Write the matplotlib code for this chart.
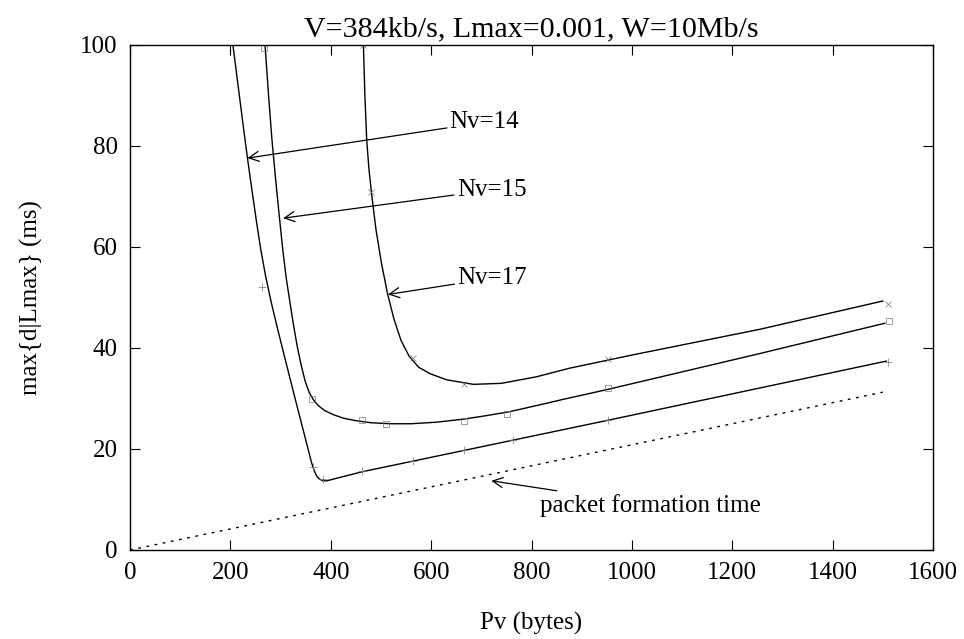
import matplotlib
matplotlib.use('Agg')
import matplotlib.pyplot as plt

plt.rcParams['font.family'] = ['Liberation Serif', 'DejaVu Serif']
plt.rcParams['font.size'] = 18

# measured points (markers)
pv14_pts = [263, 365, 385, 463, 563, 666, 764, 953, 1511]
d14_pts = [52.0, 16.4, 14.0, 15.6, 17.7, 19.8, 21.8, 25.8, 37.3]
pv15_pts = [266, 362, 463, 510, 665, 752, 952, 1512]
d15_pts = [99.4, 29.8, 25.8, 24.9, 25.5, 27.0, 32.0, 45.3]
pv17_pts = [465, 481, 564, 666, 952, 1511]
d17_pts = [100.0, 70.8, 38.0, 32.8, 37.9, 48.8]

# model curves
pv14_line = [205, 215, 225, 234, 243, 252, 260, 270, 281, 293, 306, 320, 334, 347,
             356, 362, 367, 372, 378, 385, 392, 463, 953, 1507]
d14_line = [100, 92.2, 84.4, 77.6, 71.2, 65, 59.8, 54.3, 49.2, 44.2, 39, 33.5, 28, 23,
            19.5, 17.2, 15.7, 14.6, 14.0, 13.7, 13.7, 15.5, 25.7, 37.4]
pv15_line = [269, 276, 283, 290, 297, 304, 311, 319, 326, 333, 341, 349, 357, 365, 375,
             388, 405, 425, 450, 480, 518, 560, 610, 664, 710, 757, 810, 862, 952, 1255, 1504]
d15_line = [100, 90, 81, 73.5, 66.5, 59.8, 54, 48.8, 44.4, 40.4, 36.6, 33.4, 31.2, 29.8, 28.6,
            27.6, 26.8, 26.1, 25.6, 25.2, 25.0, 25.0, 25.3, 25.9, 26.6, 27.4, 28.6, 29.8, 31.8, 38.9, 44.9]
pv17_line = [465, 468, 471.6, 476, 481.5, 490, 501, 513, 526, 540, 556, 575, 598, 631,
             684, 740, 810, 876, 1000, 1255, 1500]
d17_line = [100, 90, 81.2, 75.5, 70.4, 63.5, 56.8, 50.8, 45.7, 41.5, 38.4, 36.2, 34.9, 33.7,
            32.8, 33.0, 34.3, 36.0, 38.6, 43.7, 49.3]

pv_pkt = [0, 1500]
t_pkt = [0, 31.25]

fig = plt.figure(figsize=(9.64, 6.39), dpi=100)
ax = fig.add_axes([0.1349, 0.1393, 0.8329, 0.7903])

ax.plot(pv14_line, d14_line, color='black', lw=1.0)
ax.plot(pv15_line, d15_line, color='black', lw=1.0)
ax.plot(pv17_line, d17_line, color='black', lw=1.0)
ax.plot(pv14_pts, d14_pts, ls='none', marker='+', ms=6, mew=0.5, color='#777777')
ax.plot(pv15_pts, d15_pts, ls='none', marker='s', ms=5, mew=0.5, mfc='none', mec='#777777')
ax.plot(pv17_pts, d17_pts, ls='none', marker='x', ms=5, mew=0.5, color='#777777')
ax.plot(pv_pkt, t_pkt, color='black', lw=1.0, ls=(0, (2, 4)))

arrow = dict(arrowstyle='->', color='black', lw=0.9, shrinkA=0, shrinkB=0,
             mutation_scale=18)
ax.annotate('Nv=14', xy=(234, 77.6), xytext=(637, 84.7), arrowprops=arrow,
            va='center', ha='left')
ax.annotate('Nv=15', xy=(305, 65.7), xytext=(651, 71.3), arrowprops=arrow,
            va='center', ha='left')
ax.annotate('Nv=17', xy=(514, 50.6), xytext=(652, 53.8), arrowprops=arrow,
            va='center', ha='left')
ax.annotate('packet formation time', xy=(720, 13.7), xytext=(817, 8.9),
            arrowprops=arrow, va='center', ha='left')

ax.set_xlim(0, 1600)
ax.set_ylim(0, 100)
ax.set_xticks(range(0, 1601, 200))
ax.set_yticks(range(0, 101, 20))
ax.tick_params(direction='in', length=7, width=0.8, top=True, right=True)
ax.tick_params(axis='x', pad=9)
ax.tick_params(axis='y', pad=9)
for s in ax.spines.values():
    s.set_linewidth(1.0)

ax.set_title('V=384kb/s, Lmax=0.001, W=10Mb/s', pad=6)
ax.set_xlabel('Pv (bytes)', labelpad=20)
ax.set_ylabel('max{d|Lmax} (ms)', labelpad=27)

fig.savefig('out.png', dpi=100)
